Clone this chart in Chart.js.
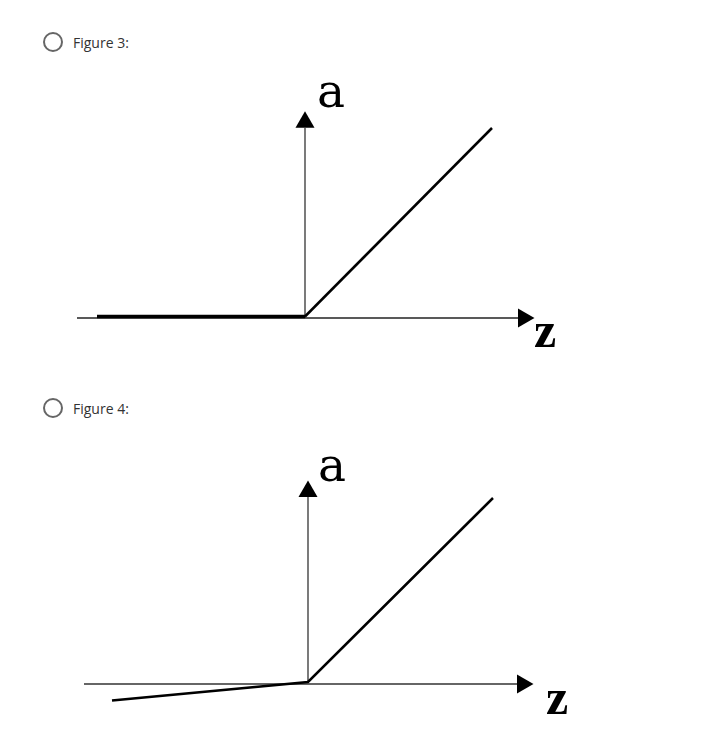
<!DOCTYPE html>
<html>
<head>
<meta charset="utf-8">
<script src="https://cdn.jsdelivr.net/npm/chart.js@4"></script>
<style>
  body { margin: 0; background: #fff; width: 718px; height: 735px; position: relative; overflow: hidden; }
  .opt { position: absolute; left: 43px; font: 14px "Open Sans", sans-serif; color: #333; display: flex; align-items: center; }
  .radio { width: 16px; height: 16px; border: 2px solid #666; border-radius: 50%; margin-right: 10px; }
  canvas { position: absolute; left: 60px; }
</style>
</head>
<body>
<div class="opt" style="top:32px"><span class="radio"></span>Figure 3:</div>
<div class="opt" style="top:398px"><span class="radio"></span>Figure 4:</div>
<canvas id="fig3" width="520" height="300" style="top:60px"></canvas>
<canvas id="fig4" width="520" height="315" style="top:420px"></canvas>
<script>
// Figure 3: ReLU
const relu_z = [-2.08, 0, 1.87];
const relu_a = [0.015, 0.015, 1.90];
// Figure 4: leaky ReLU
const leaky_z = [-1.96, 0, 1.85];
const leaky_a = [-0.165, 0.02, 1.86];

// axis extents (z-axis start/end, a-axis end) and arrow centres
const axes3 = { zFrom: -2.28, zTo: 2.13, aTo: 1.90, zArrow: 2.185, aArrow: 1.957 };
const axes4 = { zFrom: -2.24, zTo: 2.09, aTo: 1.87, zArrow: 2.145, aArrow: 1.925 };
// label positions in data units
const labels3 = [{ t: "a", x: 0.26, y: 2.11, bold: false }, { t: "z", x: 2.40, y: -0.29, bold: true }];
const labels4 = [{ t: "a", x: 0.24, y: 2.03, bold: false }, { t: "z", x: 2.49, y: -0.30, bold: true }];

const axisLabels = {
    id: "axisLabels",
    afterDatasetsDraw(chart, args, opts) {
        const ctx = chart.ctx;
        const xs = chart.scales.x, ys = chart.scales.y;
        ctx.save();
        ctx.fillStyle = "#000";
        ctx.textAlign = "center";
        ctx.textBaseline = "alphabetic";
        opts.items.forEach(l => {
            ctx.font = l.bold ? "bold 50px 'Liberation Serif', serif" : "47px 'DejaVu Serif', serif";
            ctx.fillText(l.t, xs.getPixelForValue(l.x), ys.getPixelForValue(l.y));
        });
        ctx.restore();
    }
};

function toPts(xs, ys) {
    return xs.map((v, i) => ({ x: v, y: ys[i] }));
}

function makeFig(id, fz, fa, ax, lbls, range, zAxisColor, zAxisWidth, thickFlat) {
    new Chart(document.getElementById(id), {
        type: "scatter",
        data: {
            datasets: [
                {
                    data: toPts(fz, fa),
                    showLine: true,
                    borderColor: "#000",
                    borderWidth: 2.5,
                    pointRadius: 0,
                    segment: {
                        borderWidth: c => (thickFlat && c.p0DataIndex === 0) ? 3.5 : 2.5
                    }
                },
                {
                    data: [{ x: ax.zArrow, y: 0 }, { x: 0, y: ax.aArrow }],
                    pointStyle: "triangle",
                    pointRadius: 11,
                    rotation: [90, 0],
                    backgroundColor: "#000",
                    borderColor: "#000",
                    borderWidth: 0
                },
                {
                    data: [{ x: ax.zFrom, y: 0 }, { x: ax.zTo, y: 0 }],
                    showLine: true,
                    borderColor: zAxisColor,
                    borderWidth: zAxisWidth,
                    pointRadius: 0
                },
                {
                    data: [{ x: 0, y: 0 }, { x: 0, y: ax.aTo }],
                    showLine: true,
                    borderColor: "#333",
                    borderWidth: 1.3,
                    pointRadius: 0
                }
            ]
        },
        options: {
            responsive: false,
            animation: false,
            layout: { padding: 0, autoPadding: false },
            plugins: {
                legend: { display: false },
                tooltip: { enabled: false },
                axisLabels: { items: lbls }
            },
            scales: {
                x: { type: "linear", display: false, min: range[0], max: range[1] },
                y: { type: "linear", display: false, min: range[2], max: range[3] }
            }
        },
        plugins: [axisLabels]
    });
}

makeFig("fig3", relu_z, relu_a, axes3, labels3, [-2.45, 2.75, -0.42, 2.58], "#222", 1.5, true);
makeFig("fig4", leaky_z, leaky_a, axes4, labels4, [-2.48, 2.72, -0.51, 2.64], "#666", 2, false);
</script>
</body>
</html>
